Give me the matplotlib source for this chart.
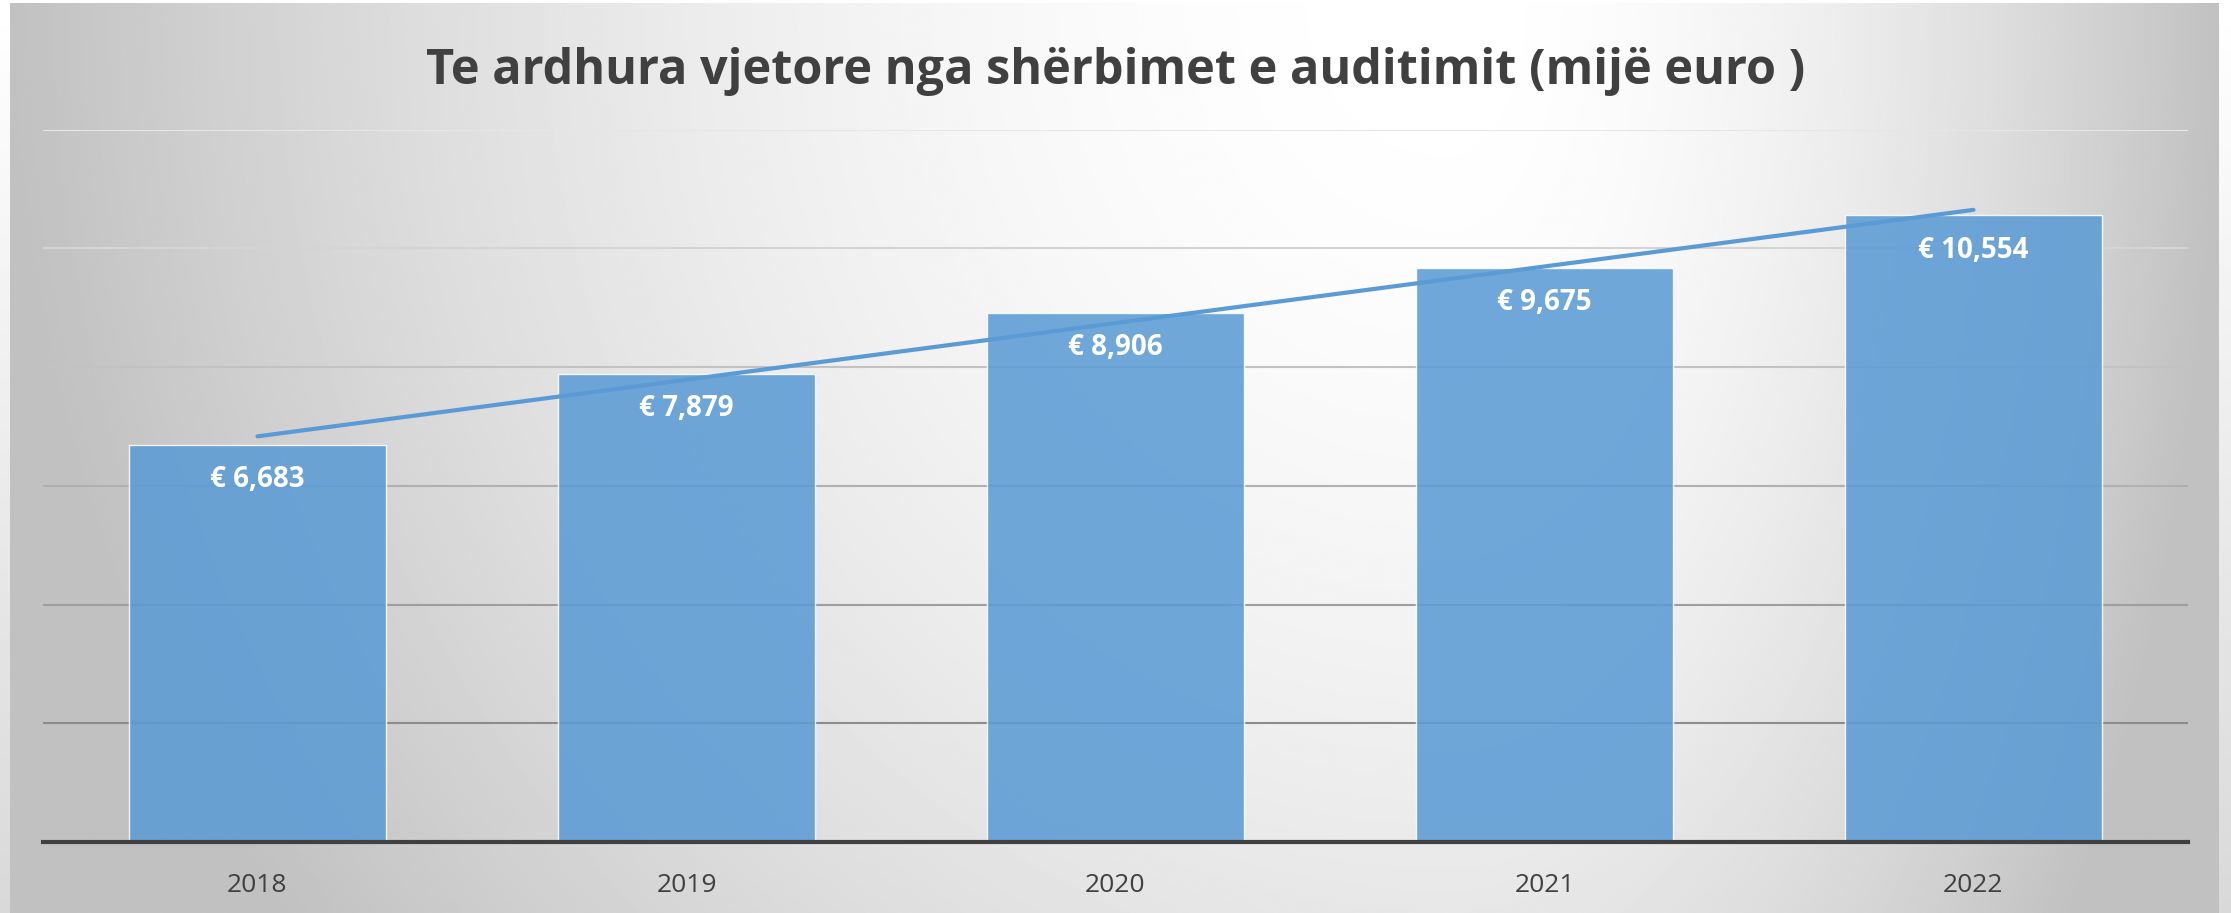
import numpy as np
import matplotlib.pyplot as plt

# dados do grafico
anos = ["2018", "2019", "2020", "2021", "2022"]
receitas = [6683, 7879, 8906, 9675, 10554]
titulo = "Te ardhura vjetore nga shërbimet e auditimit (mijë euro )"

plt.rcParams['font.family'] = ['Open Sans', 'DejaVu Sans']

W, H = 2231, 913
fig = plt.figure(figsize=(W / 100, H / 100), dpi=100)

# fundo de fora: branco em cima, cinza claro embaixo
fundo = fig.add_axes([0, 0, 1, 1], zorder=-3)
t = np.linspace(0, 1, 200).reshape(-1, 1)
fundo.imshow(1 - 0.15 * t, cmap="gray", vmin=0, vmax=1, aspect="auto")
fundo.axis("off")

# quadro com gradiente radial (claro no topo, cinza nas bordas)
quadro = fig.add_axes([10 / W, 0, (2219 - 10) / W, (H - 3) / H], zorder=-2)
xx, yy = np.meshgrid(np.linspace(0, 1, 800), np.linspace(0, 1, 330))
cx = 0.652
dx = np.where(xx < cx, (xx - cx) / cx, (xx - cx) / (1 - cx))
dy = yy / 1.7
r = np.clip(np.sqrt(dx ** 2 + dy ** 2), 0, 1)
quadro.imshow(1 - (62 / 255) * r ** 1.8, cmap="gray", vmin=0, vmax=1, aspect="auto")
quadro.axis("off")

esq, dir_ = 43 / W, 2188 / W
base, topo = 1 - 842 / H, 1 - 129.5 / H
ax = fig.add_axes([esq, base, dir_ - esq, topo - base])
ax.set_facecolor("none")

x = np.arange(len(anos))
ax.set_xlim(-0.5, len(anos) - 0.5)
ax.set_ylim(0, 12000)
ax.set_yticks(np.arange(0, 12001, 2000))

# linhas de grade, mais escuras embaixo
linhas = ax.get_yticks()[1:]
cinzas = np.linspace(0.55, 0.90, len(linhas))
for yv, c in zip(linhas, cinzas):
    ax.axhline(yv, color=str(c), lw=1.5, zorder=1)

ax.bar(x, receitas, width=0.6, color="#5b9bd5", alpha=0.87,
       edgecolor="white", linewidth=1, zorder=2)

# linha de tendencia linear
coef = np.polyfit(x, receitas, 1)
ax.plot(x, np.polyval(coef, x), color="#5b9bd5", lw=3, zorder=4,
        solid_capstyle="round")

for i, v in enumerate(receitas):
    ax.annotate(f"€ {v:,}", (i, v), xytext=(0, -25), textcoords="offset points",
                ha="center", va="center", color="white", fontsize=20,
                fontweight="bold", zorder=5)

for s in ["top", "left", "right"]:
    ax.spines[s].set_visible(False)
ax.spines["bottom"].set_color("#404040")
ax.spines["bottom"].set_linewidth(3)
ax.spines["bottom"].set_zorder(6)

ax.set_xticks(x, anos)
ax.tick_params(axis="x", length=0, pad=22, labelsize=19, labelcolor="#404040")
ax.tick_params(axis="y", left=False, labelleft=False)

fig.text((esq + dir_) / 2, 1 - 72 / H, titulo, ha="center", va="center",
         fontsize=35, fontweight="bold", color="#404040")

fig.savefig("out.png", dpi=100)
